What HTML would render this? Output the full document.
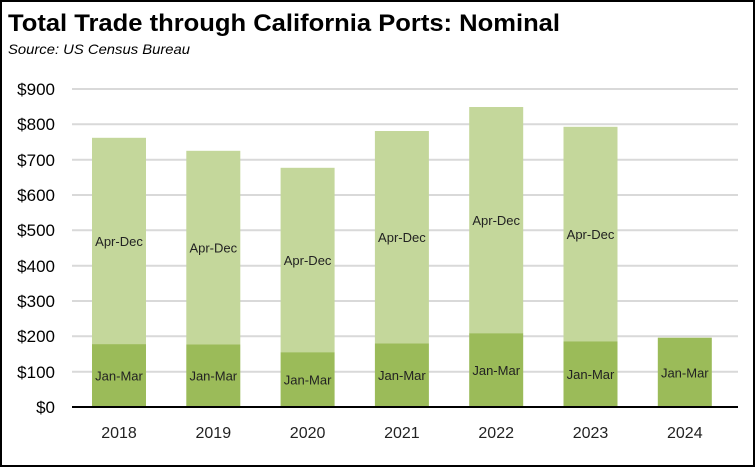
<!DOCTYPE html><html><head><style>body{margin:0;background:#fff}svg{display:block}</style></head><body>
<svg width="756" height="468" xmlns="http://www.w3.org/2000/svg" font-family="Liberation Sans, Arial, sans-serif">
<rect x="1" y="1" width="753" height="465" fill="#fff" stroke="#000" stroke-width="2"/>
<text x="8" y="31" font-size="24" font-weight="bold" fill="#000" textLength="552" lengthAdjust="spacingAndGlyphs">Total Trade through California Ports:  Nominal</text>
<text x="8" y="54" font-size="14" font-style="italic" fill="#000" textLength="182" lengthAdjust="spacingAndGlyphs">Source:  US Census Bureau</text>
<g stroke="#d9d9d9" stroke-width="2">
<line x1="72" x2="738" y1="89" y2="89"/><line x1="72" x2="738" y1="124.3" y2="124.3"/><line x1="72" x2="738" y1="159.7" y2="159.7"/><line x1="72" x2="738" y1="195" y2="195"/><line x1="72" x2="738" y1="230.3" y2="230.3"/><line x1="72" x2="738" y1="265.7" y2="265.7"/><line x1="72" x2="738" y1="301" y2="301"/><line x1="72" x2="738" y1="336.3" y2="336.3"/><line x1="72" x2="738" y1="371.7" y2="371.7"/>
</g>
<g font-size="17" fill="#000" text-anchor="end">
<text x="55" y="95">$900</text><text x="55" y="130">$800</text><text x="55" y="166">$700</text><text x="55" y="201">$600</text><text x="55" y="236">$500</text><text x="55" y="272">$400</text><text x="55" y="307">$300</text><text x="55" y="342">$200</text><text x="55" y="378">$100</text><text x="55" y="413">$0</text>
</g>
<g fill="#c4d79b">
<rect x="92" y="137.8" width="54" height="206.3"/>
<rect x="186.3" y="150.8" width="54" height="193.7"/>
<rect x="280.6" y="167.8" width="54" height="184.4"/>
<rect x="374.9" y="131" width="54" height="212.4"/>
<rect x="469.2" y="107" width="54" height="226.2"/>
<rect x="563.5" y="126.8" width="54" height="214.5"/>
</g>
<g fill="#9bbb59">
<rect x="92" y="344.1" width="54" height="62.9"/>
<rect x="186.3" y="344.5" width="54" height="62.5"/>
<rect x="280.6" y="352.2" width="54" height="54.8"/>
<rect x="374.9" y="343.4" width="54" height="63.6"/>
<rect x="469.2" y="333.2" width="54" height="73.8"/>
<rect x="563.5" y="341.3" width="54" height="65.7"/>
<rect x="657.8" y="337.7" width="54" height="69.3"/>
</g>
<g font-size="13" fill="#222" text-anchor="middle">
<text x="119" y="246">Apr-Dec</text><text x="213.3" y="252.6">Apr-Dec</text><text x="307.6" y="265">Apr-Dec</text><text x="401.9" y="242.2">Apr-Dec</text><text x="496.2" y="225.1">Apr-Dec</text><text x="590.5" y="239">Apr-Dec</text>
<text x="119" y="380.5">Jan-Mar</text><text x="213.3" y="380.7">Jan-Mar</text><text x="307.6" y="384.6">Jan-Mar</text><text x="401.9" y="380.2">Jan-Mar</text><text x="496.2" y="375.1">Jan-Mar</text><text x="590.5" y="379.1">Jan-Mar</text><text x="684.8" y="377.3">Jan-Mar</text>
</g>
<g font-size="16" fill="#222" text-anchor="middle">
<text x="119" y="438">2018</text><text x="213.3" y="438">2019</text><text x="307.6" y="438">2020</text><text x="401.9" y="438">2021</text><text x="496.2" y="438">2022</text><text x="590.5" y="438">2023</text><text x="684.8" y="438">2024</text>
</g>
<line x1="72" x2="738" y1="407" y2="407" stroke="#000" stroke-width="2"/>
</svg></body></html>
